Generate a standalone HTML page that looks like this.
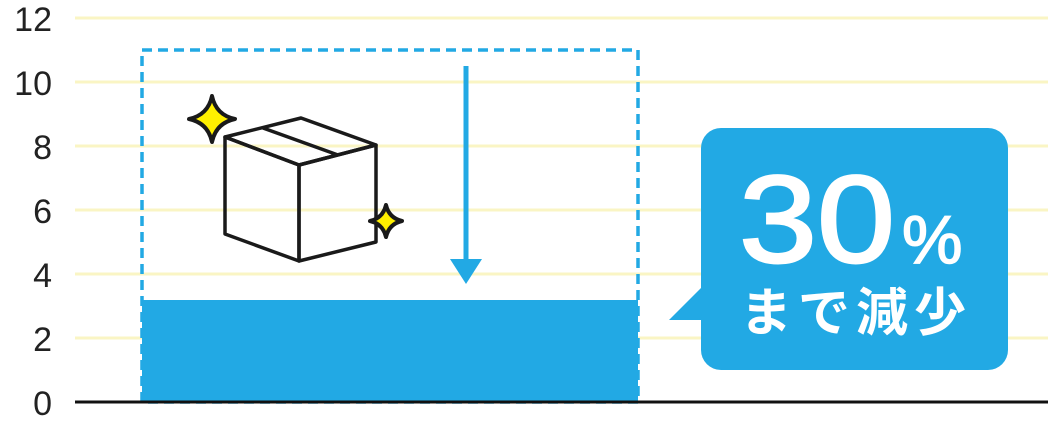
<!DOCTYPE html>
<html><head><meta charset="utf-8"><style>
body{margin:0;width:1048px;height:420px;background:#fff;overflow:hidden}
</style></head><body>
<svg width="1048" height="420" xmlns="http://www.w3.org/2000/svg">
<g stroke="#faf5c4" stroke-width="3">
<line x1="75" y1="18" x2="1048" y2="18"/><line x1="75" y1="82" x2="1048" y2="82"/>
<line x1="75" y1="146" x2="1048" y2="146"/><line x1="75" y1="210" x2="1048" y2="210"/>
<line x1="75" y1="274" x2="1048" y2="274"/><line x1="75" y1="338" x2="1048" y2="338"/>
</g>
<g font-family="Liberation Sans, sans-serif" font-size="34" fill="#222" text-anchor="end">
<text x="52" y="31">12</text><text x="52" y="95">10</text><text x="52" y="159">8</text>
<text x="52" y="223">6</text><text x="52" y="287">4</text><text x="52" y="351">2</text><text x="52" y="415">0</text>
</g>
<rect x="142" y="300" width="496" height="102" fill="#22a9e4"/>
<rect x="142" y="50" width="496" height="352" fill="none" stroke="#22a9e4" stroke-width="3.5" stroke-dasharray="10,6"/>
<line x1="75" y1="402" x2="1048" y2="402" stroke="#111" stroke-width="3"/>
<line x1="466" y1="66" x2="466" y2="262" stroke="#22a9e4" stroke-width="5"/>
<polygon points="450,259 482,259 466,284" fill="#22a9e4"/>
<g fill="none" stroke="#1a1a1a" stroke-width="3.5" stroke-linejoin="round">
<polygon points="225,137 301,118 376,145 299,165"/>
<polygon points="225,137 299,165 299,261 225,234"/>
<polygon points="299,165 376,145 376,242 299,261"/>
<line x1="263" y1="128" x2="338" y2="155"/>
</g>
<path d="M212,96 Q216,115 235,119 Q216,123 212,142 Q208,123 189,119 Q208,115 212,96Z" fill="#fff000" stroke="#1a1a1a" stroke-width="4" stroke-linejoin="round"/>
<path d="M386,205 Q389,218 402,221 Q389,224 386,237 Q383,224 370,221 Q383,218 386,205Z" fill="#fff000" stroke="#1a1a1a" stroke-width="4" stroke-linejoin="round"/>
<rect x="701" y="128" width="307" height="242" rx="20" fill="#22a9e4"/>
<polygon points="669,320 702,287 702,320" fill="#22a9e4"/>
<text x="739" y="262" font-family="Liberation Sans, sans-serif" font-size="124" fill="#fff" stroke="#fff" stroke-width="2.5" textLength="156" lengthAdjust="spacingAndGlyphs">30</text>
<text x="902" y="263" font-family="Liberation Sans, sans-serif" font-size="68" fill="#fff" stroke="#fff" stroke-width="1.5">%</text>
<text x="740" y="331" font-family="Liberation Sans, 'Noto Sans CJK JP', sans-serif" font-size="52" font-weight="bold" fill="#fff" letter-spacing="6">まで減少</text>
</svg>
</body></html>
